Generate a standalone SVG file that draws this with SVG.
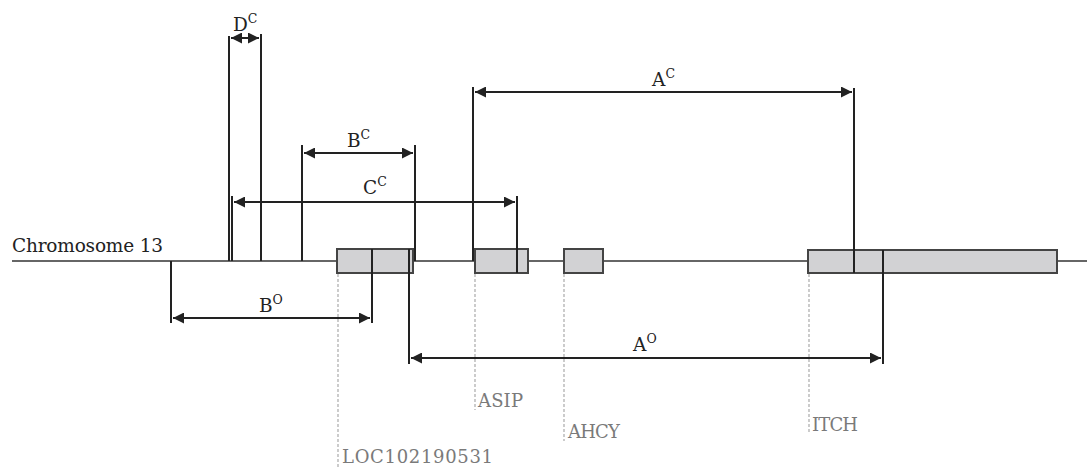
<svg xmlns="http://www.w3.org/2000/svg" width="1087" height="470" viewBox="0 0 1087 470">
<style>
.ln{stroke:#222;stroke-width:2;fill:none}
.chr{stroke:#333;stroke-width:1.5;fill:none}
.arr{stroke:#222;stroke-width:2;fill:none;marker-start:url(#ah);marker-end:url(#ah)}
.box{fill:#d2d2d4;stroke:#444;stroke-width:2}
.dash{stroke:#aaa;stroke-width:1.2;stroke-dasharray:3,2;fill:none}
.lbl{font-family:"DejaVu Serif","Liberation Serif",serif;font-size:18.5px;fill:#222}
.sup{font-size:12.5px}
.gene{font-family:"DejaVu Serif","Liberation Serif",serif;font-size:18px;fill:#7a7a7a}
</style>
<defs>
<marker id="ah" viewBox="0 0 10 10" refX="10" refY="5" markerWidth="7" markerHeight="5.5" markerUnits="strokeWidth" orient="auto-start-reverse">
<path d="M0,0 L10,5 L0,10 z" fill="#222"/>
</marker>
</defs>
<g id="chromosome">
<line class="chr" x1="12" y1="261" x2="1087" y2="261"/>
<text class="lbl" x="12" y="252" textLength="151">Chromosome 13</text>
</g>
<g id="gene-LOC102190531">
<rect class="box" x="337" y="249" width="76" height="24"/>
<line class="dash" x1="338" y1="274" x2="338" y2="468"/>
<text class="gene" x="342" y="463" textLength="151">LOC102190531</text>
</g>
<g id="gene-ASIP">
<rect class="box" x="475" y="249" width="53" height="24"/>
<line class="dash" x1="475" y1="274" x2="475" y2="410"/>
<text class="gene" x="478" y="407" textLength="45">ASIP</text>
</g>
<g id="gene-AHCY">
<rect class="box" x="564" y="249" width="39" height="24"/>
<line class="dash" x1="564" y1="274" x2="564" y2="441"/>
<text class="gene" x="568" y="438" textLength="52">AHCY</text>
</g>
<g id="gene-ITCH">
<rect class="box" x="808" y="250" width="249" height="23"/>
<line class="dash" x1="809" y1="274" x2="809" y2="434"/>
<text class="gene" x="812" y="431" textLength="46">ITCH</text>
</g>
<g id="connectors">
<line class="ln" x1="229" y1="36" x2="229" y2="261"/>
<line class="ln" x1="261" y1="34" x2="261" y2="261"/>
<line class="arr" x1="231" y1="38" x2="259" y2="38"/>
<line class="ln" x1="232" y1="196" x2="232" y2="261"/>
<line class="arr" x1="234" y1="202" x2="515" y2="202"/>
<line class="ln" x1="517" y1="196" x2="517" y2="273"/>
<line class="ln" x1="302" y1="145" x2="302" y2="261"/>
<line class="ln" x1="415" y1="145" x2="415" y2="261"/>
<line class="arr" x1="304" y1="153" x2="413" y2="153"/>
<line class="ln" x1="473" y1="87" x2="473" y2="261"/>
<line class="ln" x1="854" y1="88" x2="854" y2="273"/>
<line class="arr" x1="475" y1="92" x2="852" y2="92"/>
<line class="ln" x1="171" y1="261" x2="171" y2="323"/>
<line class="ln" x1="372" y1="249" x2="372" y2="323"/>
<line class="arr" x1="173" y1="318" x2="370" y2="318"/>
<line class="ln" x1="409" y1="249" x2="409" y2="364"/>
<line class="ln" x1="883" y1="250" x2="883" y2="364"/>
<line class="arr" x1="411" y1="358" x2="881" y2="358"/>
</g>
<g id="labels">
<text class="lbl" x="233" y="31">D<tspan class="sup" dy="-8">C</tspan></text>
<text class="lbl" x="347" y="147">B<tspan class="sup" dy="-8">C</tspan></text>
<text class="lbl" x="363" y="194">C<tspan class="sup" dy="-8">C</tspan></text>
<text class="lbl" x="652" y="86">A<tspan class="sup" dy="-8">C</tspan></text>
<text class="lbl" x="259" y="312">B<tspan class="sup" dy="-8">O</tspan></text>
<text class="lbl" x="633" y="351">A<tspan class="sup" dy="-8">O</tspan></text>
</g>
</svg>
